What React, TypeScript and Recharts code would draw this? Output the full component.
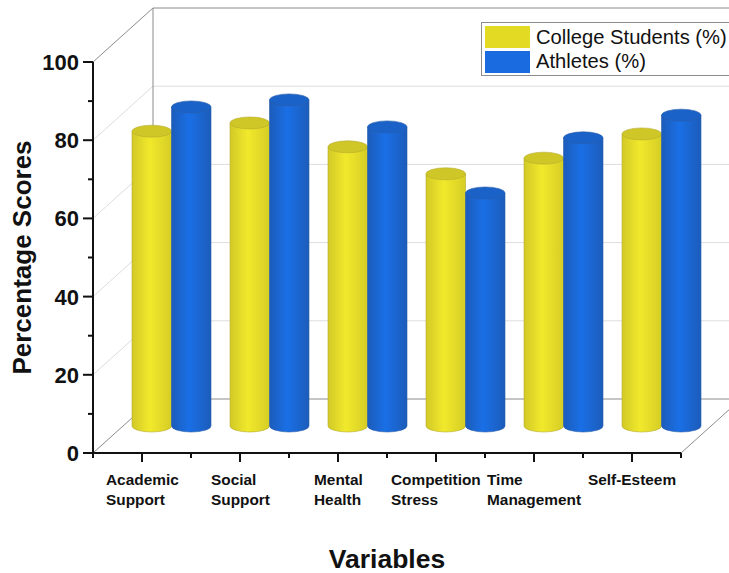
import React from 'react';
import { BarChart, Bar, XAxis, YAxis, Legend, Label, Customized } from 'recharts';

const categories = ['Academic Support', 'Social Support', 'Mental Health', 'Competition Stress', 'Time Management', 'Self-Esteem'];
const collegeStudents = [75.4, 77.5, 71.4, 64.5, 68.5, 74.7];
const athletes = [81.6, 83.4, 76.5, 59.6, 73.7, 79.5];
const yTicks = [0, 10, 20, 30, 40, 50, 60, 70, 80, 90, 100];
const labelLines = [['Academic', 'Support'], ['Social', 'Support'], ['Mental', 'Health'], ['Competition', 'Stress'], ['Time', 'Management'], ['Self-Esteem']];
const labelShift = [-36, -29, -24, -45, -47, -44];

const FONT = '"Liberation Sans", Arial, sans-serif';
const WIDTH = 729;
const HEIGHT = 573;
const LEFT = 93;
const RIGHT = 681;
const TOP = 62;
const BOTTOM = 453;
const DEPTH_X = 60;
const DEPTH_Y = -54;
const BAR_WIDTH = 39.5;
const BAR_SHIFT_X = 29;
const HALF_BAND = 49;

const data = categories.map((name, i) => ({
  name,
  college: collegeStudents[i],
  athletes: athletes[i],
}));

// Back wall, floor and side wall of the 3D box
const Frame = () => {
  const yOf = (v: number) => BOTTOM - (v / 100) * (BOTTOM - TOP);
  return (
    <g fill="none">
      {[20, 40, 60, 80].map((v) => (
        <g key={v} stroke="#dddddd" strokeWidth={1}>
          <line x1={LEFT} y1={yOf(v)} x2={LEFT + DEPTH_X} y2={yOf(v) + DEPTH_Y} />
          <line x1={LEFT + DEPTH_X} y1={yOf(v) + DEPTH_Y} x2={WIDTH} y2={yOf(v) + DEPTH_Y} />
        </g>
      ))}
      <g stroke="#8c8c8c" strokeWidth={1}>
        <line x1={LEFT} y1={TOP} x2={LEFT + DEPTH_X} y2={TOP + DEPTH_Y} />
        <line x1={LEFT + DEPTH_X} y1={TOP + DEPTH_Y} x2={WIDTH} y2={TOP + DEPTH_Y} />
        <line x1={LEFT + DEPTH_X} y1={TOP + DEPTH_Y} x2={LEFT + DEPTH_X} y2={BOTTOM + DEPTH_Y} />
        <line x1={LEFT} y1={BOTTOM} x2={LEFT + DEPTH_X} y2={BOTTOM + DEPTH_Y} />
        <line x1={LEFT + DEPTH_X} y1={BOTTOM + DEPTH_Y} x2={WIDTH} y2={BOTTOM + DEPTH_Y} />
        <line x1={RIGHT} y1={BOTTOM} x2={RIGHT + DEPTH_X} y2={BOTTOM + DEPTH_Y} />
      </g>
    </g>
  );
};

// Bar shape: a cylinder standing halfway into the box depth
const Cylinder = (props: any) => {
  const { x, y, width, height, gradient, top, edge } = props;
  const rx = width / 2;
  const ry = 6;
  const left = x + BAR_SHIFT_X;
  const right = left + width;
  const topY = y + DEPTH_Y / 2;
  const baseY = topY + height;
  return (
    <g>
      <path
        d={`M${left},${topY} L${left},${baseY} A${rx},${ry} 0 0 0 ${right},${baseY} L${right},${topY} Z`}
        fill={`url(#${gradient})`}
        stroke={edge}
        strokeWidth={0.6}
      />
      <ellipse cx={left + rx} cy={topY} rx={rx} ry={ry} fill={top} stroke={edge} strokeWidth={0.6} />
    </g>
  );
};

const YTick = ({ y, payload }: any) => {
  const major = payload.value % 20 === 0;
  return (
    <g>
      <line x1={LEFT - (major ? 10 : 5)} y1={y} x2={LEFT} y2={y} stroke="#111" strokeWidth={2} />
      {major && (
        <text x={LEFT - 14} y={y + 8} textAnchor="end" fontFamily={FONT} fontWeight="bold" fontSize={22} fill="#111">
          {payload.value}
        </text>
      )}
    </g>
  );
};

const XTick = ({ x, index }: any) => (
  <g>
    <line x1={x} y1={BOTTOM} x2={x} y2={BOTTOM + 9} stroke="#111" strokeWidth={2} />
    <line x1={x - HALF_BAND} y1={BOTTOM} x2={x - HALF_BAND} y2={BOTTOM + 5} stroke="#111" strokeWidth={2} />
    <line x1={x + HALF_BAND} y1={BOTTOM} x2={x + HALF_BAND} y2={BOTTOM + 5} stroke="#111" strokeWidth={2} />
    {labelLines[index].map((line, i) => (
      <text key={line} x={x + labelShift[index]} y={485 + i * 20} fontFamily={FONT} fontWeight="bold" fontSize={15.4} fill="#111">
        {line}
      </text>
    ))}
  </g>
);

const LegendBox = ({ payload }: any) => (
  <div
    style={{
      boxSizing: 'border-box',
      width: 260,
      height: 54,
      background: '#fff',
      border: '1px solid #8c8c8c',
      padding: '2px 3px',
      fontFamily: FONT,
      fontSize: 20.2,
      color: '#111',
    }}
  >
    {(payload || []).map((item: any) => (
      <div key={item.value} style={{ display: 'flex', alignItems: 'center', height: 24.5, whiteSpace: 'nowrap' }}>
        <span style={{ width: 45, height: 22, background: item.color, marginRight: 6, flex: 'none' }} />
        {item.value}
      </div>
    ))}
  </div>
);

export default function App() {
  return (
    <div style={{ position: 'absolute', left: 0, top: 0, width: WIDTH, height: HEIGHT, overflow: 'hidden', background: '#fff' }}>
      <BarChart
        width={WIDTH}
        height={HEIGHT}
        data={data}
        margin={{ top: TOP, right: WIDTH - RIGHT, bottom: 0, left: 0 }}
        barSize={BAR_WIDTH}
        barGap={0}
      >
        <defs>
          <linearGradient id="sideYellow" x1="0" y1="0" x2="1" y2="0">
            <stop offset="0%" stopColor="#d2c928" />
            <stop offset="45%" stopColor="#f1e92b" />
            <stop offset="100%" stopColor="#d6cd26" />
          </linearGradient>
          <linearGradient id="sideBlue" x1="0" y1="0" x2="1" y2="0">
            <stop offset="0%" stopColor="#1c5cba" />
            <stop offset="45%" stopColor="#1a6fe6" />
            <stop offset="100%" stopColor="#1c5cba" />
          </linearGradient>
        </defs>
        <Customized component={Frame} />
        <XAxis
          dataKey="name"
          height={HEIGHT - BOTTOM}
          interval={0}
          tick={<XTick />}
          tickLine={false}
          tickSize={0}
          axisLine={{ stroke: '#111', strokeWidth: 2 }}
        >
          <Label
            value="Variables"
            position="insideBottom"
            offset={5.5}
            style={{ fontFamily: FONT, fontWeight: 'bold', fontSize: 26.5, fill: '#111' }}
          />
        </XAxis>
        <YAxis
          domain={[0, 100]}
          ticks={yTicks}
          interval={0}
          width={LEFT}
          tick={<YTick />}
          tickLine={false}
          tickSize={0}
          axisLine={{ stroke: '#111', strokeWidth: 2 }}
        >
          <Label
            value="Percentage Scores"
            angle={-90}
            position="insideLeft"
            offset={22}
            style={{ textAnchor: 'middle', fontFamily: FONT, fontWeight: 'bold', fontSize: 26, fill: '#111' }}
          />
        </YAxis>
        <Bar
          dataKey="college"
          name="College Students (%)"
          fill="#e3da24"
          isAnimationActive={false}
          shape={<Cylinder gradient="sideYellow" top="#cfc628" edge="#b5ad2c" />}
        />
        <Bar
          dataKey="athletes"
          name="Athletes (%)"
          fill="#1a6ae0"
          isAnimationActive={false}
          shape={<Cylinder gradient="sideBlue" top="#1b62c8" edge="#2a5ea8" />}
        />
        <Legend
          layout="vertical"
          align="center"
          verticalAlign="middle"
          itemSorter={null}
          content={<LegendBox />}
          wrapperStyle={{ left: 481, top: 22, width: 260 }}
        />
      </BarChart>
    </div>
  );
}
